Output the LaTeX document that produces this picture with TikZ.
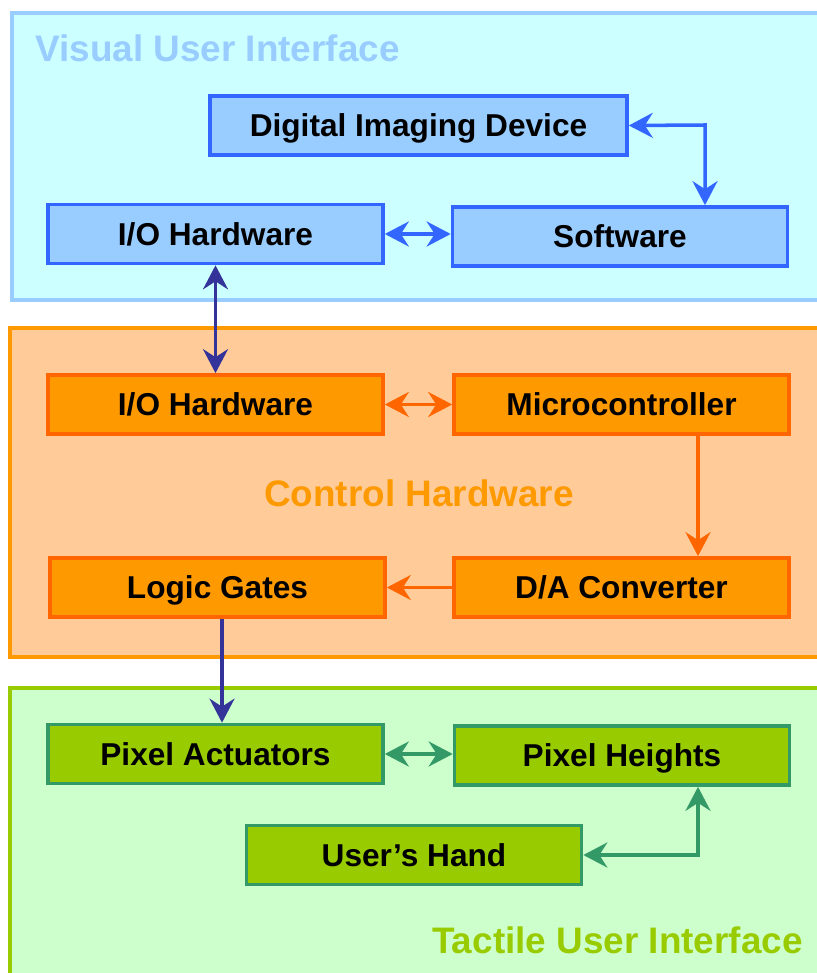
\documentclass[tikz,border=0pt]{standalone}
\usepackage{fontspec}
\setmainfont{Liberation Sans}
\usetikzlibrary{arrows.meta}
\definecolor{visfill}{HTML}{CCFFFF}
\definecolor{visline}{HTML}{99CCFF}
\definecolor{visbox}{HTML}{99CCFF}
\definecolor{visedge}{HTML}{3366FF}
\definecolor{ctlfill}{HTML}{FFCC99}
\definecolor{ctlline}{HTML}{FF9900}
\definecolor{ctlbox}{HTML}{FF9900}
\definecolor{ctledge}{HTML}{FF6600}
\definecolor{tacfill}{HTML}{CCFFCC}
\definecolor{tacline}{HTML}{99CC00}
\definecolor{tacbox}{HTML}{99CC00}
\definecolor{tacedge}{HTML}{339966}
\definecolor{linkcol}{HTML}{333399}
\tikzset{%
  block/.style    = {rectangle, line width=2.1pt, minimum width=6.7cm,
    minimum height=1.18cm, text height=12.9pt, text depth=0pt,
    font=\fontsize{18}{20}\selectfont\bfseries},
  visblock/.style = {block, draw=visedge, fill=visbox},
  ctlblock/.style = {block, draw=ctledge, fill=ctlbox},
  tacblock/.style = {block, draw=tacedge, fill=tacbox},
  panel/.style    = {line width=1.9pt},
  title/.style    = {inner sep=0pt, text height=15pt, text depth=0pt,
    font=\fontsize{21}{24}\selectfont\bfseries},
  link/.style     = {line width=2pt}
}

\begin{document}
\begin{tikzpicture}[x=0.02cm, y=-0.02cm,
  >={Stealth[length=4.8mm, width=5mm, inset=1.6mm]}]
\useasboundingbox (0,0) rectangle (817,973);
\clip (0,0) rectangle (817,973);
% panels
\draw[panel, draw=visline, fill=visfill] (12,13) rectangle (850,300);
\draw[panel, draw=ctlline, fill=ctlfill] (10,328) rectangle (850,657);
\draw[panel, draw=tacline, fill=tacfill] (10,688) rectangle (850,1000);
\node[title, text=visline, anchor=west] (vistitle) at (35,48) {Visual User Interface};
\node[title, text=ctlline] (ctltitle) at (419,493) {Control Hardware};
\node[title, text=tacline, anchor=east] (tactitle) at (803,940) {Tactile User Interface};
% blocks
\node[visblock, minimum width=8.34cm] (imaging) at (418.5,125.5) {Digital Imaging Device};
\node[visblock] (vishw) at (215.5,234) {I/O Hardware};
\node[visblock] (software) at (620,236.5) {Software};
\node[ctlblock] (ctlhw) at (215.5,404.5) {I/O Hardware};
\node[ctlblock] (micro) at (621.5,404.5) {Microcontroller};
\node[ctlblock] (logic) at (217.5,587.5) {Logic Gates};
\node[ctlblock] (dac) at (621.5,587.5) {D/A Converter};
\node[tacblock] (actuators) at (215.5,754) {Pixel Actuators};
\node[tacblock] (heights) at (622,755.5) {Pixel Heights};
\node[tacblock] (hand) at (414,855) {User’s Hand};
\coordinate (imgcorner) at (705,125);
\coordinate (handcorner) at (698,855);
% connectors
\draw[link, visedge, <->] (imaging.east) -- (imgcorner) -- (imgcorner |- software.north);
\draw[link, visedge, <->] (vishw.east) -- (software.west |- vishw.east);
\draw[link, linkcol, <->] (vishw.south) -- (ctlhw.north);
\draw[link, ctledge, <->] (ctlhw.east) -- (micro.west);
\draw[link, ctledge, ->] (micro.south -| 698,0) -- (dac.north -| 698,0);
\draw[link, ctledge, ->] (dac.west) -- (logic.east);
\draw[link, linkcol, ->] (logic.south -| 222,0) -- (actuators.north -| 222,0);
\draw[link, tacedge, <->] (actuators.east) -- (heights.west |- actuators.east);
\draw[link, tacedge, <->] (hand.east) -- (handcorner) -- (heights.south -| handcorner);
\end{tikzpicture}
\end{document}
